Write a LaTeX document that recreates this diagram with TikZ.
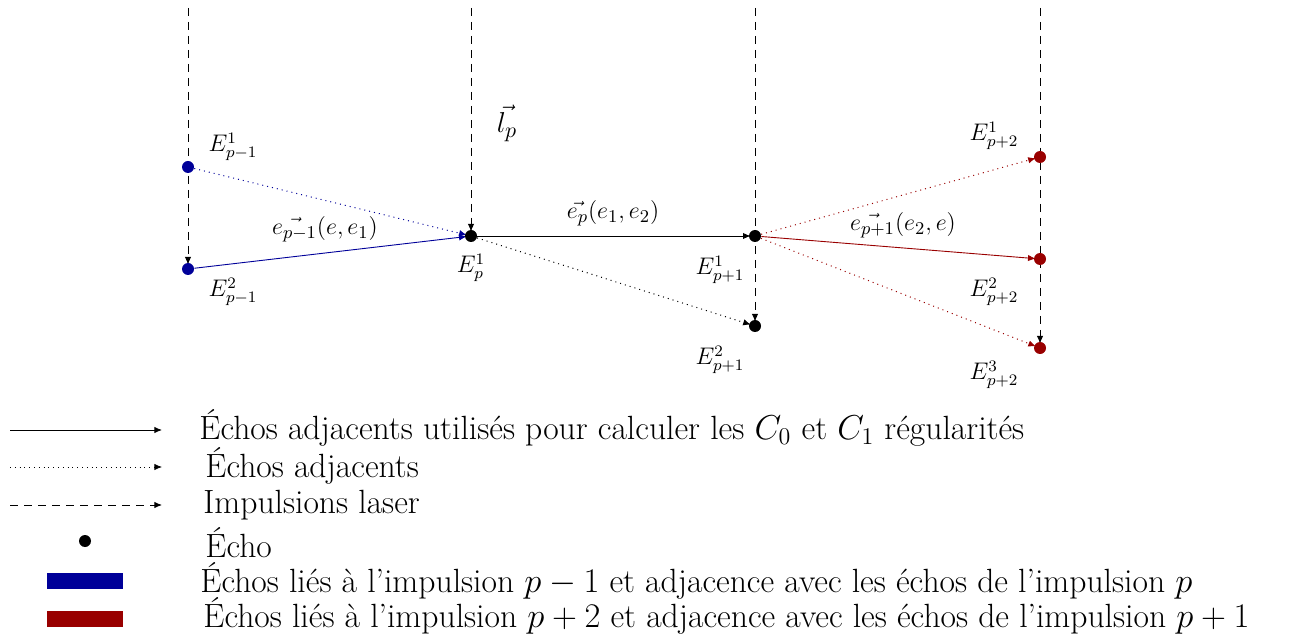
\documentclass[tikz,border=0pt]{standalone}
\usetikzlibrary{arrows.meta,backgrounds}
\definecolor{pblue}{RGB}{0,0,153}
\definecolor{pred}{RGB}{153,0,0}
\begin{document}
\begin{tikzpicture}[x=0.5pt,y=-0.5pt,
 dot/.style={circle,fill,inner sep=0pt,minimum size=6pt},
 lab/.style={font=\fontsize{11.5}{13}\selectfont,inner sep=0pt},
 elab/.style={font=\fontsize{12.2}{14}\selectfont,inner sep=0pt},
 biglab/.style={font=\fontsize{15}{18}\selectfont,inner sep=0pt},
 tipped/.style={-{Latex[length=3.8pt,width=3.2pt]},shorten >=-1pt},
 pulse/.style={tipped,dash pattern=on 4pt off 3pt,line width=0.45pt},
 adj/.style={tipped,dotted,line width=0.5pt},
 used/.style={tipped,line width=0.45pt},
 legtxt/.style={anchor=base west,font=\fontsize{16.8}{20}\selectfont,inner sep=0pt},
 legbar/.style={inner sep=0pt,minimum width=38pt,minimum height=8pt}]
\useasboundingbox (0,0) rectangle (1300,641);

% echo nodes
\node[dot,pblue] (a1) at (188,167) {};
\node[dot,pblue] (a2) at (188,269) {};
\node[dot] (b1) at (471,236) {};
\node[dot] (c1) at (755,236) {};
\node[dot] (c2) at (755,326) {};
\node[dot,pred] (d1) at (1040,157) {};
\node[dot,pred] (d2) at (1040,259) {};
\node[dot,pred] (d3) at (1040,348) {};

% pulse tops
\coordinate (ta) at (188,8);
\coordinate (tb) at (471,8);
\coordinate (tc) at (755,8);
\coordinate (td) at (1040,8);

\begin{pgfonlayer}{background}
\draw[pulse] (ta) -- (a2);
\draw[pulse] (tb) -- (b1);
\draw[pulse] (tc) -- (c2);
\draw[pulse] (td) -- (d3);
\draw[adj,pblue] (a1) -- (b1);
\draw[used,pblue] (a2) -- (b1);
\draw[adj] (b1) -- (c2);
\draw[used] (b1) -- (c1);
\draw[adj,pred] (c1) -- (d1);
\draw[used,pred] (c1) -- (d2);
\draw[adj,pred] (c1) -- (d3);
\end{pgfonlayer}

% labels
\node[lab] (La1) at (233,147) {$E^1_{p-1}$};
\node[lab] (La2) at (233,292) {$E^2_{p-1}$};
\node[lab] (Lb1) at (471,268) {$E^1_{p}$};
\node[lab] (Lc1) at (720,270) {$E^1_{p+1}$};
\node[lab] (Lc2) at (720,360) {$E^2_{p+1}$};
\node[lab] (Ld1) at (994,136) {$E^1_{p+2}$};
\node[lab] (Ld2) at (994,292) {$E^2_{p+2}$};
\node[lab] (Ld3) at (994,375) {$E^3_{p+2}$};
\node[biglab] (Llp) at (507,123) {$\vec{l_p}$};
\node[elab] (Le1) at (325,229) {$\vec{e_{p-1}}(e,e_1)$};
\node[elab] (Le2) at (613,213) {$\vec{e_{p}}(e_1,e_2)$};
\node[elab] (Le3) at (903,225) {$\vec{e_{p+1}}(e_2,e)$};

% legend
\coordinate (s1) at (10,430); \coordinate (e1) at (160,430);
\coordinate (s2) at (10,467); \coordinate (e2) at (160,467);
\coordinate (s3) at (10,505); \coordinate (e3) at (160,505);
\draw[used] (s1) -- (e1);
\draw[adj,line width=0.4pt] (s2) -- (e2);
\draw[pulse] (s3) -- (e3);
\node[dot] (ldot) at (85,541) {};
\node[legbar,fill=pblue] (lblue) at (85,581) {};
\node[legbar,fill=pred] (lred) at (85,619) {};

\node[legtxt] (t1) at (199,439) {Échos adjacents utilisés pour calculer les $C_0$ et $C_1$ régularités};
\node[legtxt] (t2) at (205,477) {Échos adjacents};
\node[legtxt] (t3) at (203,513) {Impulsions laser};
\node[legtxt] (t4) at (205,557) {Écho};
\node[legtxt] (t5) at (200,592) {Échos liés à l'impulsion $p-1$ et adjacence avec les échos de l'impulsion $p$};
\node[legtxt] (t6) at (203,627) {Échos liés à l'impulsion $p+2$ et adjacence avec les échos de l'impulsion $p+1$};
\end{tikzpicture}
\end{document}
